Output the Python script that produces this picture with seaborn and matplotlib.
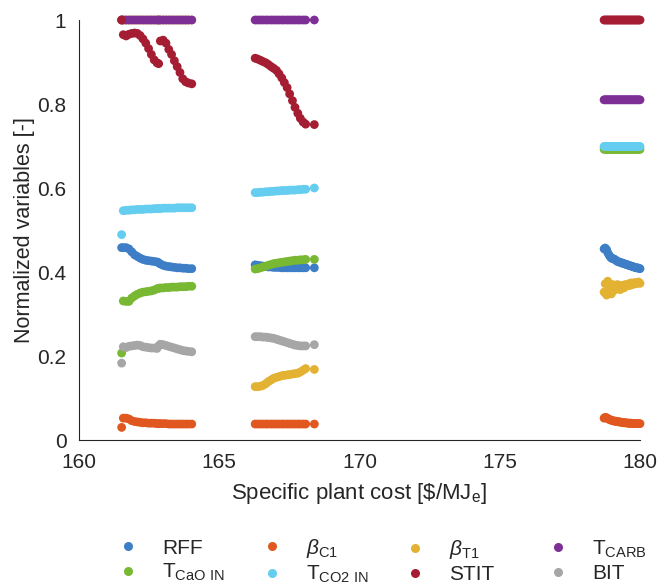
import numpy as np
import pandas as pd
import matplotlib
matplotlib.use('Agg')
import matplotlib.pyplot as plt
from matplotlib.lines import Line2D
import seaborn as sns

# ---------------- data ----------------
cost = [
    # cluster 1
    161.52, 161.58, 161.68, 161.78, 161.88, 161.98, 162.08, 162.18, 162.28, 162.38,
    162.48, 162.58, 162.68, 162.78, 162.84, 162.90, 163.00, 163.10, 163.20, 163.30,
    163.40, 163.50, 163.60, 163.70, 163.80, 163.90, 164.02,
    # cluster 2
    166.28, 166.37, 166.47, 166.56, 166.66, 166.75, 166.85, 166.94, 167.04, 167.13,
    167.23, 167.32, 167.42, 167.51, 167.61, 167.70, 167.80, 167.89, 167.99, 168.08,
    168.39,
    # cluster 3
    178.72, 178.76, 178.81, 178.85, 178.90, 178.94, 178.98, 179.03, 179.07, 179.12,
    179.16, 179.20, 179.25, 179.29, 179.34, 179.38, 179.42, 179.47, 179.51, 179.56,
    179.60, 179.64, 179.69, 179.73, 179.78, 179.82, 179.86, 179.91, 179.95, 180.00,
]

rff = [
    0.458, 0.458, 0.458, 0.455, 0.448, 0.441, 0.437, 0.433, 0.430, 0.428,
    0.427, 0.426, 0.425, 0.424, 0.422, 0.419, 0.416, 0.414, 0.413, 0.412,
    0.411, 0.410, 0.410, 0.409, 0.409, 0.408, 0.408,
    0.417, 0.416, 0.415, 0.414, 0.413, 0.412, 0.412, 0.411, 0.411, 0.411,
    0.410, 0.410, 0.410, 0.410, 0.410, 0.410, 0.410, 0.410, 0.410, 0.410,
    0.410,
    0.455, 0.457, 0.453, 0.446, 0.440, 0.436, 0.433, 0.432, 0.431, 0.429,
    0.427, 0.425, 0.424, 0.423, 0.422, 0.421, 0.420, 0.419, 0.418, 0.417,
    0.416, 0.415, 0.414, 0.413, 0.412, 0.411, 0.410, 0.410, 0.409, 0.408,
]

beta_c1 = [
    0.030, 0.052, 0.052, 0.050, 0.046, 0.044, 0.043, 0.042, 0.041, 0.041,
    0.040, 0.040, 0.040, 0.039, 0.039, 0.039, 0.039, 0.039, 0.038, 0.038,
    0.038, 0.038, 0.038, 0.038, 0.038, 0.038, 0.038,
    0.038, 0.038, 0.038, 0.038, 0.038, 0.038, 0.038, 0.038, 0.038, 0.038,
    0.038, 0.038, 0.038, 0.038, 0.038, 0.038, 0.038, 0.038, 0.038, 0.038,
    0.038,
    0.052, 0.054, 0.053, 0.051, 0.049, 0.048, 0.047, 0.046, 0.045, 0.045,
    0.044, 0.044, 0.043, 0.043, 0.042, 0.042, 0.041, 0.041, 0.041, 0.040,
    0.040, 0.040, 0.040, 0.039, 0.039, 0.039, 0.039, 0.039, 0.039, 0.039,
]

beta_t1 = [
    1.0, 1.0, 1.0, 1.0, 1.0, 1.0, 1.0, 1.0, 1.0, 1.0,
    1.0, 1.0, 1.0, 1.0, 1.0, 1.0, 1.0, 1.0, 1.0, 1.0,
    1.0, 1.0, 1.0, 1.0, 1.0, 1.0, 1.0,
    0.127, 0.127, 0.128, 0.130, 0.134, 0.139, 0.143, 0.147, 0.149, 0.151,
    0.153, 0.154, 0.155, 0.156, 0.157, 0.158, 0.159, 0.162, 0.166, 0.170,
    0.168,
    0.352, 0.372, 0.345, 0.378, 0.350, 0.362, 0.348, 0.370, 0.356, 0.366,
    0.360, 0.370, 0.362, 0.358, 0.368, 0.365, 0.362, 0.370, 0.366, 0.368,
    0.372, 0.368, 0.374, 0.370, 0.372, 0.375, 0.372, 0.374, 0.376, 0.373,
]

t_carb = [
    1.0, 1.0, 1.0, 1.0, 1.0, 1.0, 1.0, 1.0, 1.0, 1.0,
    1.0, 1.0, 1.0, 1.0, 1.0, 1.0, 1.0, 1.0, 1.0, 1.0,
    1.0, 1.0, 1.0, 1.0, 1.0, 1.0, 1.0,
    1.0, 1.0, 1.0, 1.0, 1.0, 1.0, 1.0, 1.0, 1.0, 1.0,
    1.0, 1.0, 1.0, 1.0, 1.0, 1.0, 1.0, 1.0, 1.0, 1.0,
    1.0,
    0.810, 0.810, 0.810, 0.810, 0.810, 0.810, 0.810, 0.810, 0.810, 0.810,
    0.810, 0.810, 0.810, 0.810, 0.810, 0.810, 0.810, 0.810, 0.810, 0.810,
    0.810, 0.810, 0.810, 0.810, 0.810, 0.810, 0.810, 0.810, 0.810, 0.810,
]

t_cao_in = [
    0.207, 0.331, 0.330, 0.330, 0.338, 0.343, 0.347, 0.350, 0.352, 0.353,
    0.354, 0.355, 0.357, 0.360, 0.361, 0.362, 0.362, 0.363, 0.363, 0.364,
    0.364, 0.364, 0.365, 0.365, 0.365, 0.366, 0.366,
    0.407, 0.408, 0.410, 0.412, 0.414, 0.416, 0.418, 0.420, 0.421, 0.422,
    0.423, 0.424, 0.425, 0.426, 0.427, 0.428, 0.428, 0.429, 0.429, 0.430,
    0.430,
    0.692, 0.692, 0.692, 0.692, 0.692, 0.692, 0.692, 0.692, 0.692, 0.692,
    0.692, 0.692, 0.692, 0.692, 0.692, 0.692, 0.692, 0.692, 0.692, 0.692,
    0.692, 0.692, 0.692, 0.692, 0.692, 0.692, 0.692, 0.692, 0.692, 0.692,
]

t_co2_in = [
    0.489, 0.546, 0.547, 0.547, 0.548, 0.548, 0.549, 0.549, 0.549, 0.550,
    0.550, 0.550, 0.551, 0.551, 0.551, 0.551, 0.552, 0.552, 0.552, 0.552,
    0.552, 0.553, 0.553, 0.553, 0.553, 0.553, 0.553,
    0.589, 0.589, 0.590, 0.590, 0.591, 0.591, 0.592, 0.592, 0.593, 0.593,
    0.594, 0.594, 0.594, 0.595, 0.595, 0.595, 0.596, 0.596, 0.597, 0.597,
    0.600,
    0.699, 0.699, 0.699, 0.699, 0.699, 0.699, 0.699, 0.699, 0.699, 0.699,
    0.699, 0.699, 0.699, 0.699, 0.699, 0.699, 0.699, 0.699, 0.699, 0.699,
    0.699, 0.699, 0.699, 0.699, 0.699, 0.699, 0.699, 0.699, 0.699, 0.699,
]

stit = [
    1.000, 0.965, 0.962, 0.966, 0.968, 0.969, 0.968, 0.963, 0.955, 0.945,
    0.932, 0.918, 0.905, 0.898, 0.896, 0.950, 0.952, 0.945, 0.930, 0.918,
    0.903, 0.889, 0.875, 0.860, 0.853, 0.850, 0.848,
    0.909, 0.907, 0.904, 0.901, 0.898, 0.894, 0.889, 0.885, 0.880, 0.872,
    0.862, 0.851, 0.839, 0.824, 0.808, 0.792, 0.778, 0.766, 0.757, 0.752,
    0.751,
    1.0, 1.0, 1.0, 1.0, 1.0, 1.0, 1.0, 1.0, 1.0, 1.0,
    1.0, 1.0, 1.0, 1.0, 1.0, 1.0, 1.0, 1.0, 1.0, 1.0,
    1.0, 1.0, 1.0, 1.0, 1.0, 1.0, 1.0, 1.0, 1.0, 1.0,
]

bit = [
    0.183, 0.222, 0.220, 0.223, 0.224, 0.225, 0.226, 0.225, 0.222, 0.221,
    0.220, 0.219, 0.219, 0.218, 0.224, 0.228, 0.227, 0.225, 0.223, 0.221,
    0.219, 0.217, 0.215, 0.213, 0.212, 0.211, 0.210,
    0.246, 0.246, 0.246, 0.245, 0.245, 0.244, 0.243, 0.242, 0.240, 0.238,
    0.236, 0.234, 0.232, 0.230, 0.228, 0.226, 0.225, 0.224, 0.224, 0.224,
    0.227,
    np.nan, np.nan, np.nan, np.nan, np.nan, np.nan, np.nan, np.nan, np.nan, np.nan,
    np.nan, np.nan, np.nan, np.nan, np.nan, np.nan, np.nan, np.nan, np.nan, np.nan,
    np.nan, np.nan, np.nan, np.nan, np.nan, np.nan, np.nan, np.nan, np.nan, np.nan,
]

names = ['RFF', 'bC1', 'bT1', 'TCARB', 'TCaO', 'TCO2', 'STIT', 'BIT']
labels = ['RFF', r'$\beta_{\mathrm{C1}}$', r'$\beta_{\mathrm{T1}}$', r'T$_{\mathrm{CARB}}$',
          r'T$_{\mathrm{CaO\ IN}}$', r'T$_{\mathrm{CO2\ IN}}$', 'STIT', 'BIT']
colors = ['#3D7EC6', '#E0581F', '#E3B232', '#7E2F96',
          '#78B833', '#65CDF0', '#A51D33', '#A6A6A6']
x_ticks = [160, 165, 170, 175, 180]
y_ticks = [0, 0.2, 0.4, 0.6, 0.8, 1]
y_ticklabels = ['0', '0.2', '0.4', '0.6', '0.8', '1']

# ---------------- build ----------------
df = pd.DataFrame({'cost': cost, 'RFF': rff, 'bC1': beta_c1, 'bT1': beta_t1,
                   'TCARB': t_carb, 'TCaO': t_cao_in, 'TCO2': t_co2_in,
                   'STIT': stit, 'BIT': bit})
long = df.melt(id_vars='cost', value_vars=names, var_name='variable', value_name='value')
long = long.dropna()

sns.set_theme(style='white')
plt.rcParams['font.family'] = ['Liberation Sans', 'DejaVu Sans']
plt.rcParams['mathtext.fontset'] = 'custom'
plt.rcParams['mathtext.rm'] = 'Liberation Sans'
plt.rcParams['mathtext.it'] = 'Liberation Sans:italic'
plt.rcParams['mathtext.bf'] = 'Liberation Sans:bold'
plt.rcParams['mathtext.sf'] = 'Liberation Sans'

txt = '#262626'
fs = 15

fig = plt.figure(figsize=(6.58, 5.85), dpi=100)
ax = fig.add_axes([79 / 658, 1 - 440 / 585, 561 / 658, 420 / 585])

sns.scatterplot(data=long, x='cost', y='value', hue='variable', hue_order=names,
                palette=colors, s=40, linewidth=0, edgecolor='none',
                legend=False, ax=ax)
for c in ax.collections:
    c.set_clip_on(False)

ax.set_xlim(160, 180)
ax.set_ylim(0, 1)
ax.set_xticks(x_ticks)
ax.set_xticklabels([str(t) for t in x_ticks])
ax.set_yticks(y_ticks)
ax.set_yticklabels(y_ticklabels)
ax.tick_params(direction='in', length=5, width=0.8, color=txt, labelcolor=txt,
               labelsize=fs)
ax.tick_params(axis='x', pad=9.5)
ax.tick_params(axis='y', pad=9)
for s in ['top', 'right']:
    ax.spines[s].set_visible(False)
for s in ['left', 'bottom']:
    ax.spines[s].set_color(txt)
    ax.spines[s].set_linewidth(0.8)

ax.set_xlabel(r'Specific plant cost [\$/MJ$_{\mathrm{e}}$]', fontsize=16, color=txt, labelpad=6)
ax.set_ylabel('Normalized variables [-]', fontsize=15.5, color=txt, labelpad=2)

# legend: 4 columns x 2 rows, placed column by column
col_x = [128, 272, 415, 558]
hl = 1.0
for i in range(4):
    idx = [i, i + 4]
    handles = [Line2D([], [], linestyle='none', marker='o', markersize=6.5,
                      markerfacecolor=colors[j], markeredgecolor='none') for j in idx]
    leg = fig.legend(handles, [labels[j] for j in idx], loc='center left',
                     bbox_to_anchor=((col_x[i] - hl * fs * 100 / 72 / 2) / 658, 1 - 561 / 585),
                     frameon=False, fontsize=fs, handlelength=hl, handletextpad=1.15,
                     borderpad=0, borderaxespad=0, labelspacing=0.2, labelcolor=txt)

fig.savefig('out.png', dpi=100)
